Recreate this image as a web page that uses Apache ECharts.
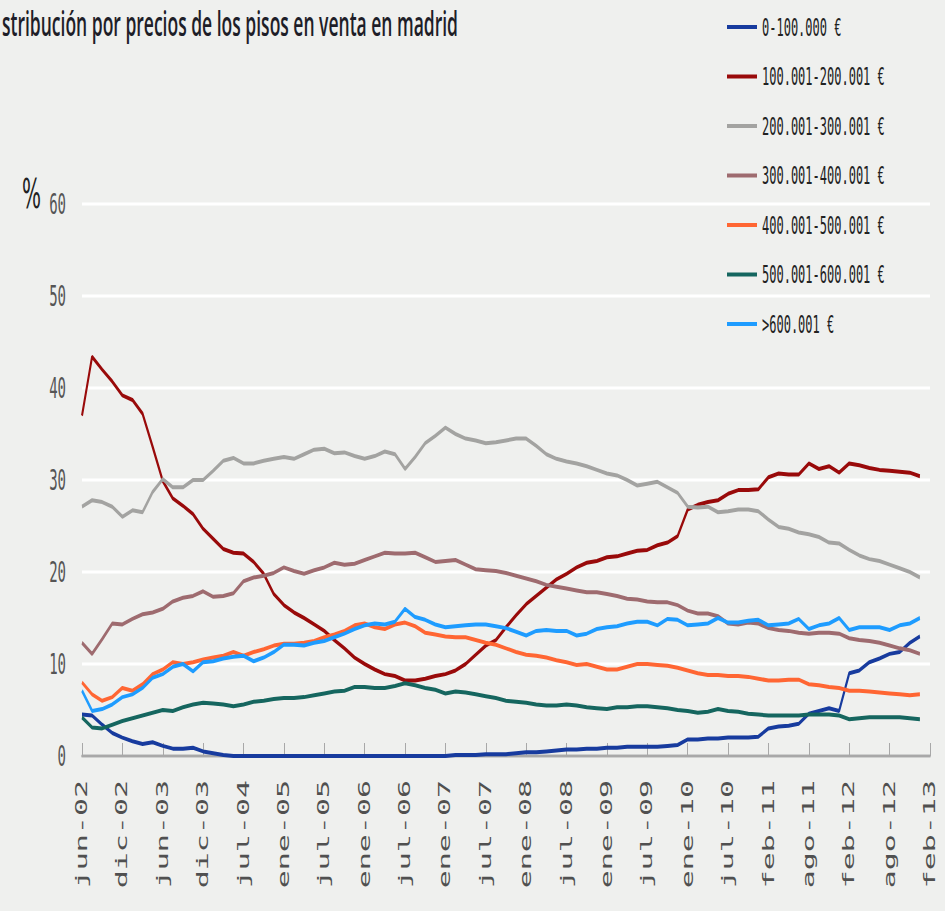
<!DOCTYPE html>
<html>
<head>
<meta charset="utf-8">
<title>distribución por precios de los pisos en venta en madrid</title>
<script src="https://cdn.jsdelivr.net/npm/echarts@6/dist/echarts.min.js"></script>
<style>
    html, body {
        margin: 0;
        padding: 0;
        background: #eff0ee;
    }
    body {
        width: 945px;
        height: 911px;
    }
    /* the source picture is stretched vertically (about 2x), so the chart is
       drawn at half height and scaled back up */
    #chart {
        width: 945px;
        height: 455.5px;
        transform: scale(1, 2);
        transform-origin: 0 0;
    }
</style>
</head>
<body>
<div id="chart"></div>
<script>
    // tick labels, one every 4 samples
    var tickLabels = ['jun-02', 'dic-02', 'jun-03', 'dic-03', 'jul-04', 'ene-05', 'jul-05', 'ene-06',
        'jul-06', 'ene-07', 'jul-07', 'ene-08', 'jul-08', 'ene-09', 'jul-09', 'ene-10', 'jul-10',
        'feb-11', 'ago-11', 'feb-12', 'ago-12', 'feb-13'];

    var seriesNames = ['0-100.000 €', '100.001-200.001 €', '200.001-300.001 €', '300.001-400.001 €',
        '400.001-500.001 €', '500.001-600.001 €', '>600.001 €'];

    // % of flats on sale
    var tramo0_100 = [
        4.5, 4.4, 3.4, 2.5, 2.0, 1.6, 1.3, 1.5, 1.1, 0.8, 0.8, 0.9, 0.5, 0.3, 0.1, 0, 0, 0, 0, 0, 0,
        0, 0, 0, 0, 0, 0, 0, 0, 0, 0, 0, 0, 0, 0, 0, 0, 0.1, 0.1, 0.1, 0.2,
        0.2, 0.2, 0.3, 0.4, 0.4, 0.5, 0.6, 0.7, 0.7, 0.8, 0.8, 0.9, 0.9, 1.0, 1.0, 1.0, 1.0, 1.1, 1.2, 1.8, 1.8,
        1.9, 1.9, 2.0, 2.0, 2.0, 2.1, 3.0, 3.2, 3.3, 3.5, 4.6, 4.9, 5.2, 4.9, 9.0, 9.3, 10.2, 10.6, 11.1, 11.3, 12.3, 13.0
    ];
    var tramo100_200 = [
        37.0, 43.4, 42.0, 40.7, 39.2, 38.7, 37.2, 33.6, 29.9, 28.0, 27.2, 26.3, 24.7, 23.6, 22.5, 22.1, 22.0, 21.1, 19.8, 17.6, 16.4,
        15.6, 15.0, 14.3, 13.6, 12.6, 11.7, 10.7, 10.0, 9.4, 8.9, 8.7, 8.2, 8.2, 8.4, 8.7, 8.9, 9.3, 10.0, 11.0, 12.0,
        12.6, 14.0, 15.3, 16.5, 17.4, 18.3, 19.2, 19.8, 20.5, 21.0, 21.2, 21.6, 21.7, 22.0, 22.3, 22.4, 22.9, 23.2, 23.9, 26.8, 27.3,
        27.6, 27.8, 28.5, 28.9, 28.9, 29.0, 30.3, 30.7, 30.6, 30.6, 31.8, 31.2, 31.5, 30.8, 31.8, 31.6, 31.3, 31.1, 31.0, 30.9, 30.8, 30.4
    ];
    var tramo200_300 = [
        27.1, 27.8, 27.6, 27.1, 26.0, 26.7, 26.5, 28.7, 30.1, 29.2, 29.2, 30.0, 30.0, 31.0, 32.1, 32.4, 31.8, 31.8, 32.1, 32.3, 32.5,
        32.3, 32.8, 33.3, 33.4, 32.9, 33.0, 32.6, 32.3, 32.6, 33.1, 32.8, 31.2, 32.5, 34.0, 34.8, 35.7, 35.0, 34.5, 34.3, 34.0,
        34.1, 34.3, 34.5, 34.5, 33.7, 32.8, 32.3, 32.0, 31.8, 31.5, 31.1, 30.7, 30.5, 30.0, 29.4, 29.6, 29.8, 29.2, 28.6, 27.1, 27.0,
        27.1, 26.5, 26.6, 26.8, 26.8, 26.6, 25.7, 24.9, 24.7, 24.3, 24.1, 23.8, 23.2, 23.1, 22.4, 21.8, 21.4, 21.2, 20.8, 20.4, 20.0, 19.4
    ];
    var tramo300_400 = [
        12.3, 11.1, 12.7, 14.4, 14.3, 14.9, 15.4, 15.6, 16.0, 16.8, 17.2, 17.4, 17.9, 17.3, 17.4, 17.7, 19.0, 19.4, 19.6, 19.9, 20.5,
        20.1, 19.8, 20.2, 20.5, 21.0, 20.8, 20.9, 21.3, 21.7, 22.1, 22.0, 22.0, 22.1, 21.6, 21.1, 21.2, 21.3, 20.8, 20.3, 20.2,
        20.1, 19.9, 19.6, 19.3, 19.0, 18.6, 18.4, 18.2, 18.0, 17.8, 17.8, 17.6, 17.4, 17.1, 17.0, 16.8, 16.7, 16.7, 16.4, 15.8, 15.5,
        15.5, 15.2, 14.4, 14.3, 14.5, 14.4, 13.9, 13.7, 13.6, 13.4, 13.3, 13.4, 13.4, 13.3, 12.8, 12.6, 12.5, 12.3, 12.0, 11.7, 11.5, 11.1
    ];
    var tramo400_500 = [
        8.0, 6.7, 6.0, 6.4, 7.4, 7.1, 7.8, 8.9, 9.4, 10.2, 10.0, 10.2, 10.5, 10.7, 10.9, 11.3, 10.9, 11.3, 11.6, 12.0, 12.2,
        12.2, 12.3, 12.5, 12.9, 13.2, 13.6, 14.2, 14.4, 14.0, 13.8, 14.3, 14.5, 14.1, 13.4, 13.2, 13.0, 12.9, 12.9, 12.6, 12.3,
        12.1, 11.7, 11.3, 11.0, 10.9, 10.7, 10.4, 10.2, 9.9, 10.0, 9.7, 9.4, 9.4, 9.7, 10.0, 10.0, 9.9, 9.8, 9.6, 9.3, 9.0,
        8.8, 8.8, 8.7, 8.7, 8.6, 8.4, 8.2, 8.2, 8.3, 8.3, 7.8, 7.7, 7.5, 7.4, 7.1, 7.1, 7.0, 6.9, 6.8, 6.7, 6.6, 6.7
    ];
    var tramo500_600 = [
        4.2, 3.1, 3.0, 3.4, 3.8, 4.1, 4.4, 4.7, 5.0, 4.9, 5.3, 5.6, 5.8, 5.7, 5.6, 5.4, 5.6, 5.9, 6.0, 6.2, 6.3,
        6.3, 6.4, 6.6, 6.8, 7.0, 7.1, 7.5, 7.5, 7.4, 7.4, 7.6, 7.9, 7.7, 7.4, 7.2, 6.8, 7.0, 6.9, 6.7, 6.5,
        6.3, 6.0, 5.9, 5.8, 5.6, 5.5, 5.5, 5.6, 5.5, 5.3, 5.2, 5.1, 5.3, 5.3, 5.4, 5.4, 5.3, 5.2, 5.0, 4.9, 4.7,
        4.8, 5.1, 4.9, 4.8, 4.6, 4.5, 4.4, 4.4, 4.4, 4.4, 4.5, 4.5, 4.5, 4.4, 4.0, 4.1, 4.2, 4.2, 4.2, 4.2, 4.1, 4.0
    ];
    var tramo600 = [
        7.1, 4.9, 5.1, 5.6, 6.4, 6.7, 7.4, 8.5, 8.9, 9.7, 10.0, 9.2, 10.2, 10.3, 10.6, 10.8, 10.9, 10.3, 10.7, 11.3, 12.1,
        12.1, 12.0, 12.3, 12.5, 12.9, 13.3, 13.8, 14.2, 14.4, 14.3, 14.6, 16.0, 15.1, 14.8, 14.3, 14.0, 14.1, 14.2, 14.3, 14.3,
        14.1, 13.9, 13.5, 13.1, 13.6, 13.7, 13.6, 13.6, 13.1, 13.3, 13.8, 14.0, 14.1, 14.4, 14.6, 14.6, 14.2, 14.9, 14.8, 14.2, 14.3,
        14.4, 15.0, 14.5, 14.5, 14.7, 14.8, 14.2, 14.3, 14.4, 14.9, 13.8, 14.2, 14.4, 15.0, 13.7, 14.0, 14.0, 14.0, 13.7, 14.2, 14.4, 15.0
    ];

    var colors = ['#173b9e', '#990a0a', '#a3a3a1', '#9e6b6f', '#ff6633', '#15665f', '#1e9cff'];

    // category axis: 4 samples per labelled step, the last label closes the axis
    var categories = [];
    for (var i = 0; i <= (tickLabels.length - 1) * 4; i++) {
        categories.push(i % 4 === 0 ? tickLabels[i / 4] : '');
    }

    var allData = [tramo0_100, tramo100_200, tramo200_300, tramo300_400, tramo400_500, tramo500_600, tramo600];
    var series = allData.map(function (d, k) {
        return {
            name: seriesNames[k],
            type: 'line',
            data: d,
            showSymbol: false,
            lineStyle: {width: 2, color: colors[k]},
            itemStyle: {color: colors[k]}
        };
    });

    var mono = 'DejaVu Sans Mono';

    var chart = echarts.init(document.getElementById('chart'), null, {renderer: 'svg'});
    chart.setOption({
        backgroundColor: '#eff0ee',
        animation: false,
        title: {
            text: 'stribución por precios de los pisos en venta en madrid',
            left: 2,
            top: 2,
            padding: 0,
            textStyle: {
                fontFamily: 'Open Sans',
                fontWeight: 600,
                fontSize: 17.5,
                color: '#1e1e28'
            }
        },
        legend: {
            orient: 'vertical',
            left: 727,
            top: 6.5,
            padding: 0,
            itemWidth: 30,
            itemHeight: 2,
            itemGap: 10.75,
            icon: 'rect',
            data: seriesNames,
            textStyle: {fontFamily: mono, fontSize: 12, color: '#222', lineHeight: 14}
        },
        graphic: [{
            type: 'text',
            left: 22,
            top: 87,
            style: {text: '%', font: '20px "DejaVu Sans"', fill: '#222'}
        }],
        grid: {
            left: 82,
            right: 15,
            top: 102,
            bottom: 78,
            containLabel: false,
            outerBoundsMode: 'none'
        },
        xAxis: {
            type: 'category',
            boundaryGap: false,
            data: categories,
            axisLine: {lineStyle: {color: '#a8a8a8', width: 1.5}},
            axisTick: {inside: true, length: 6.5, interval: 3, lineStyle: {color: '#a8a8a8', width: 1}},
            axisLabel: {interval: 3, rotate: 90, margin: 12, fontFamily: mono, fontSize: 15, color: '#505050'},
            splitLine: {show: false}
        },
        yAxis: {
            type: 'value',
            min: 0,
            max: 60,
            interval: 10,
            axisLine: {show: false},
            axisTick: {show: false},
            axisLabel: {margin: 16, fontFamily: mono, fontSize: 14, color: '#555'},
            splitLine: {lineStyle: {color: '#ffffff', width: 1.5}}
        },
        series: series
    });
</script>
</body>
</html>
